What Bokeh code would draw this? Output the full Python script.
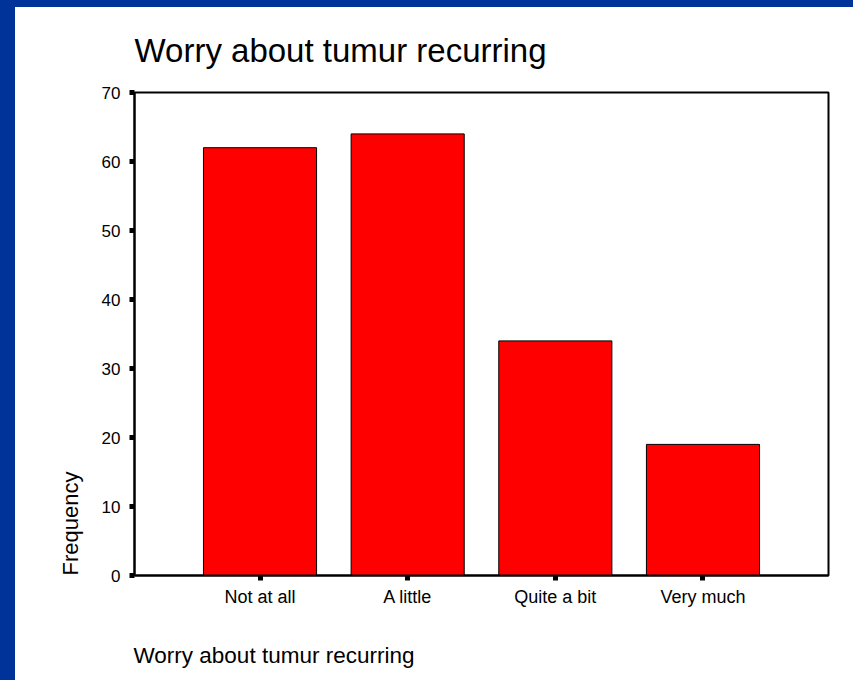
import math
from bokeh.plotting import figure
from bokeh.models import ColumnDataSource, FixedTicker, Range1d, Title, GlobalInlineStyleSheet
from bokeh.embed import file_html
from bokeh.resources import INLINE

# ---- data ----
categories = ["Not at all", "A little", "Quite a bit", "Very much"]
frequency = [62, 64, 34, 19]
y_ticks = [0, 10, 20, 30, 40, 50, 60, 70]
title_text = "Worry about tumur recurring"
x_label_text = "Worry about tumur recurring"
y_label_text = "Frequency"

xs = list(range(1, len(categories) + 1))
src = ColumnDataSource(dict(x=xs, top=frequency, cat=categories))

FONT = "Liberation Sans"

css = GlobalInlineStyleSheet(css="""
html { background: linear-gradient(to right, #003399 0px, #003399 15px, rgba(255,255,255,0) 15px),
                    linear-gradient(to bottom, #003399 0px, #003399 7px, #ffffff 7px) !important; }
body { background: transparent !important; }
html, body { overflow: hidden !important; }
""")

X0, X1 = 0.15, 4.85
p = figure(frame_width=694, frame_height=483, output_backend="svg", toolbar_location=None,
           x_range=Range1d(X0, X1), y_range=Range1d(0, 70),
           min_border_left=134, min_border_right=25, min_border_top=92, min_border_bottom=105,
           stylesheets=[css])
p.border_fill_alpha = 0
p.background_fill_color = "white"
p.outline_line_color = "black"
p.outline_line_width = 2
p.xgrid.visible = False
p.ygrid.visible = False

p.title.text = title_text
p.title.align = "left"
p.title.offset = 0
p.title.standoff = 47
p.title.text_font = FONT
p.title.text_font_size = "33px"
p.title.text_font_style = "normal"
p.title.text_color = "black"

p.vbar(x="x", top="top", bottom=0, width=0.766, source=src,
       fill_color="#ff0000", line_color="black", line_width=1)

for ax in (p.xaxis[0], p.yaxis[0]):
    ax.axis_line_color = "black"
    ax.axis_line_width = 2
    ax.major_tick_line_color = "black"
    ax.major_tick_line_width = 5
    ax.major_tick_out = 5
    ax.major_tick_in = 0
    ax.minor_tick_line_color = None
    ax.major_label_text_font = FONT
    ax.major_label_text_color = "black"

p.xaxis.ticker = FixedTicker(ticks=xs)
p.xaxis.major_label_overrides = {x: c for x, c in zip(xs, categories)}
p.xaxis.major_label_text_font_size = "18px"
p.xaxis.major_label_standoff = 6

p.yaxis.ticker = FixedTicker(ticks=y_ticks)
p.yaxis.major_label_text_font_size = "17px"
p.yaxis.major_label_standoff = 9

p.add_layout(Title(text=x_label_text, align="left", offset=-1, standoff=62,
                   text_font=FONT, text_font_size="22.5px", text_font_style="normal",
                   text_color="black"), "below")
p.add_layout(Title(text=y_label_text, align="left", offset=0, standoff=32,
                   text_font=FONT, text_font_size="22px", text_font_style="normal",
                   text_color="black"), "left")

open("out.html", "w").write(file_html(p, INLINE))
